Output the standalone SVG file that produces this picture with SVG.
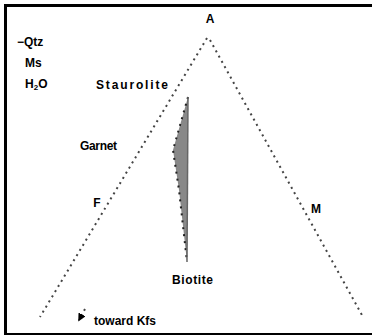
<svg xmlns="http://www.w3.org/2000/svg" width="372" height="335" viewBox="0 0 372 335">
<style>
.t{font-family:"Liberation Sans",Arial,sans-serif;font-weight:bold;font-size:12px;fill:#000}
.dot{fill:none;stroke:#444;stroke-width:2;stroke-dasharray:2 4}
</style>
<defs>
<marker id="ah" viewBox="0 0 10 10" refX="8" refY="5" markerWidth="4" markerHeight="4" orient="auto"><path d="M0,0 L10,5 L0,10 z" fill="#000"/></marker>
</defs>
<rect x="0" y="0" width="372" height="335" fill="#fff"/>
<rect x="5.5" y="5.5" width="380" height="329" fill="none" stroke="#000" stroke-width="3"/>
<g id="connectors">
<line class="dot" x1="207" y1="38" x2="40" y2="317"/>
<line class="dot" x1="210" y1="40" x2="363" y2="317"/>
<line class="dot" x1="85" y1="309" x2="79" y2="320" marker-end="url(#ah)"/>
</g>
<g id="field">
<polygon points="188,97 173,150 179,190 187,262" fill="#888"/>
<polyline points="188,97 173,150 179,190 187,262" fill="none" stroke="#222" stroke-width="2" stroke-dasharray="2 5"/>
<line x1="188" y1="97" x2="187" y2="262" stroke="#666" stroke-width="1.5"/>
</g>
<g id="A"><text class="t" x="210" y="23" text-anchor="middle" font-size="13">A</text></g>
<g id="F"><text class="t" x="97" y="207" text-anchor="middle" font-size="13">F</text></g>
<g id="M"><text class="t" x="316" y="213" text-anchor="middle" font-size="13">M</text></g>
<g id="components">
<text class="t" x="17" y="46">−Qtz</text>
<text class="t" x="25" y="67">Ms</text>
<text class="t" x="25" y="88">H<tspan font-size="8" dy="2">2</tspan><tspan dy="-2">O</tspan></text>
</g>
<g id="Staurolite"><text class="t" x="96" y="89" textLength="72">Staurolite</text></g>
<g id="Garnet"><text class="t" x="80" y="150" textLength="37">Garnet</text></g>
<g id="Biotite"><text class="t" x="172" y="284" textLength="41">Biotite</text></g>
<g id="Kfs"><text class="t" x="94" y="325">toward Kfs</text></g>
</svg>
